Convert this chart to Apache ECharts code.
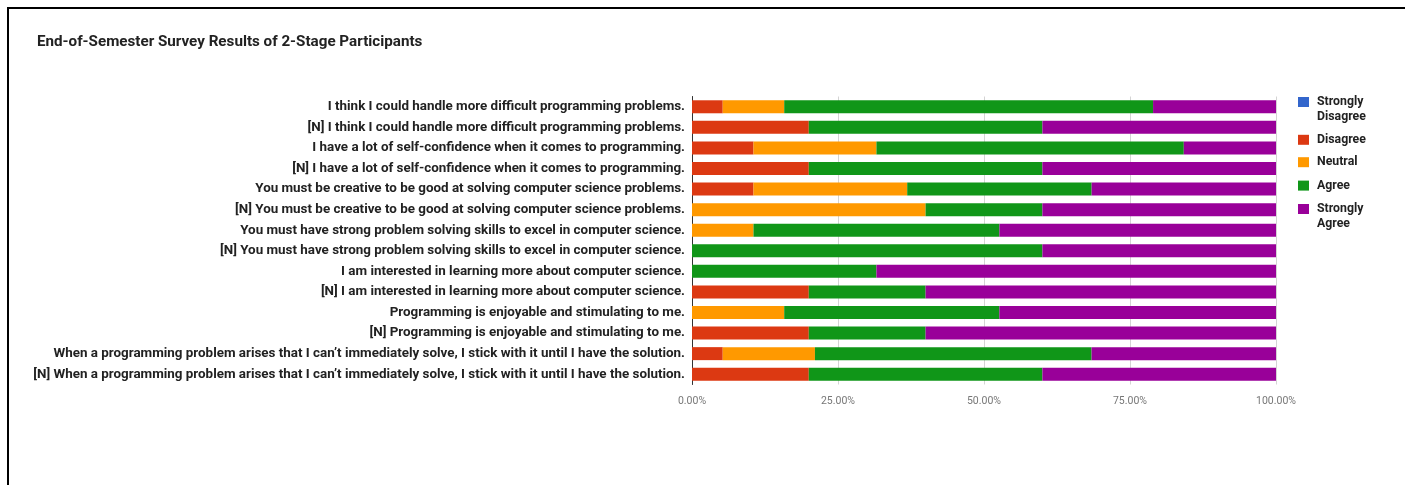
<!DOCTYPE html>
<html>
<head>
<meta charset="utf-8">
<title>End-of-Semester Survey Results of 2-Stage Participants</title>
<script src="https://cdn.jsdelivr.net/npm/echarts@6/dist/echarts.min.js"></script>
<style>
  html, body { margin: 0; padding: 0; background: #fff; }
  #chart { position: absolute; left: 0; top: 0; width: 1405px; height: 485px; }
  #frame { position: absolute; left: 7px; top: 7px; right: 0; bottom: 0;
           border-left: 2px solid #000; border-top: 2px solid #000; pointer-events: none; }
</style>
</head>
<body>
<div id="chart"></div>
<div id="frame"></div>
<script>
// Survey statements, listed top to bottom
const statements = [
  "I think I could handle more difficult programming problems.",
  "[N] I think I could handle more difficult programming problems.",
  "I have a lot of self-confidence when it comes to programming.",
  "[N] I have a lot of self-confidence when it comes to programming.",
  "You must be creative to be good at solving computer science problems.",
  "[N] You must be creative to be good at solving computer science problems.",
  "You must have strong problem solving skills to excel in computer science.",
  "[N] You must have strong problem solving skills to excel in computer science.",
  "I am interested in learning more about computer science.",
  "[N] I am interested in learning more about computer science.",
  "Programming is enjoyable and stimulating to me.",
  "[N] Programming is enjoyable and stimulating to me.",
  "When a programming problem arises that I can’t immediately solve, I stick with it until I have the solution.",
  "[N] When a programming problem arises that I can’t immediately solve, I stick with it until I have the solution."
];

// Share of responses (%) per statement
const stronglyDisagree = [0, 0, 0, 0, 0, 0, 0, 0, 0, 0, 0, 0, 0, 0];
const disagree        = [5.26, 20, 10.53, 20, 10.53, 0, 0, 0, 0, 20, 0, 20, 5.26, 20];
const neutral         = [10.53, 0, 21.05, 0, 26.32, 40, 10.53, 0, 0, 0, 15.79, 0, 15.79, 0];
const agree           = [63.16, 40, 52.63, 40, 31.58, 20, 42.11, 60, 31.58, 20, 36.84, 20, 47.37, 40];
const stronglyAgree   = [21.05, 40, 15.79, 40, 31.58, 40, 47.37, 40, 68.42, 60, 47.37, 60, 31.58, 40];

const responseNames = ["Strongly Disagree", "Disagree", "Neutral", "Agree", "Strongly Agree"];
const responseColors = ["#3366cc", "#dc3912", "#ff9900", "#109618", "#990099"];
const responseValues = [stronglyDisagree, disagree, neutral, agree, stronglyAgree];

const axisTicks = [0, 25, 50, 75, 100];

const FONT = "Roboto, 'Liberation Sans', Arial, sans-serif";
const LINE_H = 14.5;

// One legend block per response; two-word names get a blank leading line so the
// swatch (centred on the text block) sits beside the first word
const swatchCentres = [102, 139.8, 162.2, 185.6, 209];
const legends = responseNames.map((name, i) => {
  const twoLine = name.indexOf(" ") > 0;
  return {
    data: [name],
    orient: "vertical",
    left: 1298,
    top: swatchCentres[i] - (twoLine ? 1.5 * LINE_H : 0.5 * LINE_H),
    padding: 0,
    itemWidth: 11,
    itemHeight: 10,
    itemGap: 0,
    icon: "rect",
    selectedMode: false,
    formatter: n => (n.indexOf(" ") > 0 ? "\n" + n.replace(" ", "\n") : n),
    textStyle: {
      fontFamily: FONT,
      fontSize: 12.3,
      fontWeight: "bold",
      color: "#222",
      lineHeight: LINE_H,
      padding: [0, 0, 0, 3]
    }
  };
});

const chart = echarts.init(document.getElementById("chart"), null, { renderer: "canvas" });

chart.setOption({
  animation: false,
  backgroundColor: "#fff",
  title: {
    text: "End-of-Semester Survey Results of 2-Stage Participants",
    left: 37,
    top: 35,
    padding: 0,
    textStyle: { fontFamily: FONT, fontSize: 15.2, fontWeight: "bold", color: "#222" }
  },
  legend: legends,
  grid: { left: 692, right: 129, top: 96.5, height: 288, containLabel: false },
  xAxis: {
    type: "value",
    min: axisTicks[0],
    max: axisTicks[axisTicks.length - 1],
    interval: axisTicks[1] - axisTicks[0],
    axisLine: { show: false },
    axisTick: { show: false },
    splitLine: { show: true, lineStyle: { color: "#d4d4d4", width: 1 } },
    axisLabel: {
      formatter: v => v.toFixed(2) + "%",
      fontFamily: FONT,
      fontSize: 10.5,
      color: "#777",
      margin: 11
    }
  },
  yAxis: {
    type: "category",
    inverse: true,
    data: statements,
    axisLine: { show: true, lineStyle: { color: "#333", width: 1 } },
    axisTick: { show: false },
    axisLabel: {
      fontFamily: FONT,
      fontSize: 13.4,
      fontWeight: "bold",
      color: "#222",
      margin: 7
    }
  },
  series: responseNames.map((name, i) => ({
    name: name,
    type: "bar",
    stack: "total",
    data: responseValues[i],
    barWidth: 13,
    itemStyle: { color: responseColors[i] },
    emphasis: { disabled: true }
  }))
});
</script>
</body>
</html>
